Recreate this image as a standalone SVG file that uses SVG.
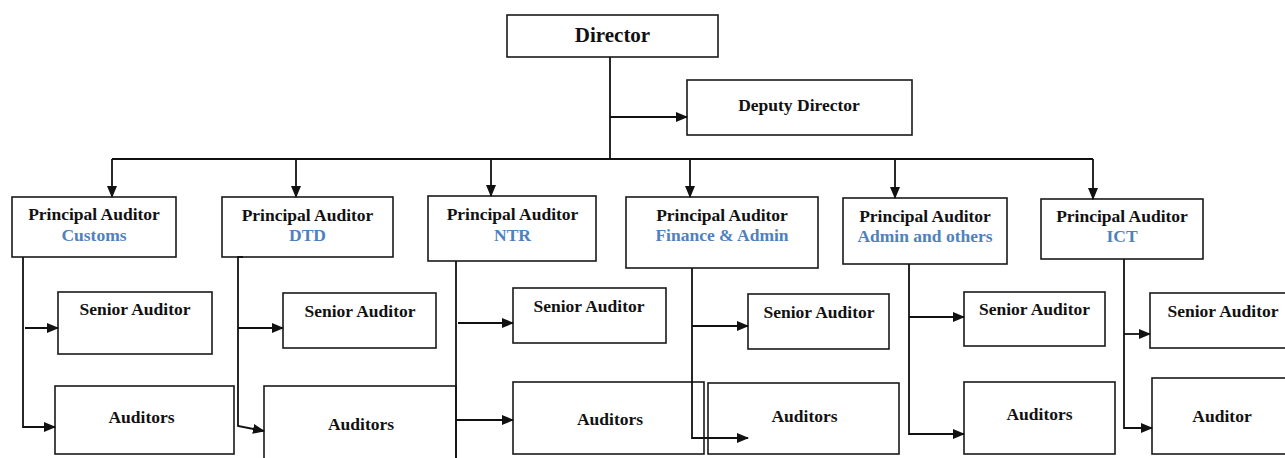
<svg xmlns="http://www.w3.org/2000/svg" width="1285" height="458" viewBox="0 0 1285 458">
<style>
rect{fill:#fff;stroke:#1a1a1a;stroke-width:1.6}
text{font-family:"Liberation Serif","Times New Roman",serif;font-weight:bold;font-size:17.5px;fill:#111;text-anchor:middle}
.b{fill:#4f81bd}
.c{fill:none;stroke:#111;stroke-width:1.8}
</style>
<defs>
<marker id="ah" markerUnits="userSpaceOnUse" markerWidth="12" markerHeight="10" refX="11" refY="5" orient="auto">
<path d="M0,0 L12,5 L0,10 Z" fill="#111"/>
</marker>
</defs>
<rect width="1285" height="458" style="fill:#fff;stroke:none"/>
<g id="director"><rect x="507" y="15" width="211" height="42"/><text x="612.5" y="42" style="font-size:21px">Director</text></g>
<g id="deputy"><rect x="687" y="80" width="225" height="55"/><text x="799" y="111">Deputy Director</text></g>
<g id="pa-customs"><rect x="12" y="197" width="164" height="60"/><text x="94" y="220">Principal Auditor</text><text class="b" x="94" y="241">Customs</text></g>
<g id="pa-dtd"><rect x="222" y="197" width="171" height="60"/><text x="307.5" y="221">Principal Auditor</text><text class="b" x="307.5" y="241">DTD</text></g>
<g id="pa-ntr"><rect x="428" y="196" width="168" height="65"/><text x="512.5" y="220">Principal Auditor</text><text class="b" x="512.5" y="241">NTR</text></g>
<g id="pa-finance"><rect x="626" y="197" width="192" height="71"/><text x="722" y="221">Principal Auditor</text><text class="b" x="722" y="241">Finance &amp; Admin</text></g>
<g id="pa-admin"><rect x="843" y="198" width="164" height="66"/><text x="925" y="222">Principal Auditor</text><text class="b" x="925" y="242">Admin and others</text></g>
<g id="pa-ict"><rect x="1041" y="199" width="162" height="60"/><text x="1122" y="222">Principal Auditor</text><text class="b" x="1122" y="242">ICT</text></g>
<g id="sa-1"><rect x="58" y="292" width="154" height="62"/><text x="135" y="315">Senior Auditor</text></g>
<g id="sa-2"><rect x="283" y="293" width="153" height="55"/><text x="360" y="317">Senior Auditor</text></g>
<g id="sa-3"><rect x="513" y="288" width="153" height="55"/><text x="589" y="312">Senior Auditor</text></g>
<g id="sa-4"><rect x="748" y="294" width="141" height="55"/><text x="819" y="318">Senior Auditor</text></g>
<g id="sa-5"><rect x="964" y="292" width="141" height="54"/><text x="1034.5" y="315">Senior Auditor</text></g>
<g id="sa-6"><rect x="1150" y="293" width="145" height="55"/><text x="1223" y="317">Senior Auditor</text></g>
<g id="au-1"><rect x="55" y="386" width="179" height="68"/><text x="141.5" y="423">Auditors</text></g>
<g id="au-2"><rect x="264" y="386" width="192" height="80"/><text x="361" y="430">Auditors</text></g>
<g id="au-3"><rect x="513" y="382" width="191" height="72"/><text x="610" y="425">Auditors</text></g>
<g id="au-4"><rect x="708" y="383" width="191" height="71"/><text x="804.5" y="422">Auditors</text></g>
<g id="au-5"><rect x="964" y="382" width="151" height="72"/><text x="1039.5" y="420">Auditors</text></g>
<g id="au-6"><rect x="1152" y="378" width="145" height="76"/><text x="1222" y="422">Auditor</text></g>
<g id="connectors">
<path class="c" d="M610,57 V159"/>
<path class="c" d="M610,117 H687" marker-end="url(#ah)"/>
<path class="c" d="M112,159 H1093"/>
<path class="c" d="M112,159 V197" marker-end="url(#ah)"/>
<path class="c" d="M296,159 V197" marker-end="url(#ah)"/>
<path class="c" d="M491,159 V196" marker-end="url(#ah)"/>
<path class="c" d="M690,159 V197" marker-end="url(#ah)"/>
<path class="c" d="M895,159 V198" marker-end="url(#ah)"/>
<path class="c" d="M1093,159 V199" marker-end="url(#ah)"/>
<path class="c" d="M23,257 V427 H55" marker-end="url(#ah)"/>
<path class="c" d="M25,328 H58" marker-end="url(#ah)"/>
<path class="c" d="M243,257 H238 V426 L264,431" marker-end="url(#ah)"/>
<path class="c" d="M238,328 H283" marker-end="url(#ah)"/>
<path class="c" d="M456,261 V458"/>
<path class="c" d="M458,323 H513" marker-end="url(#ah)"/>
<path class="c" d="M456,420 H513" marker-end="url(#ah)"/>
<path class="c" d="M692,268 V438 H748" marker-end="url(#ah)"/>
<path class="c" d="M692,326 H748" marker-end="url(#ah)"/>
<path class="c" d="M909,264 V434 H964" marker-end="url(#ah)"/>
<path class="c" d="M909,317 H964" marker-end="url(#ah)"/>
<path class="c" d="M1124,259 V428 H1152" marker-end="url(#ah)"/>
<path class="c" d="M1124,334 H1150" marker-end="url(#ah)"/>
</g>
</svg>
